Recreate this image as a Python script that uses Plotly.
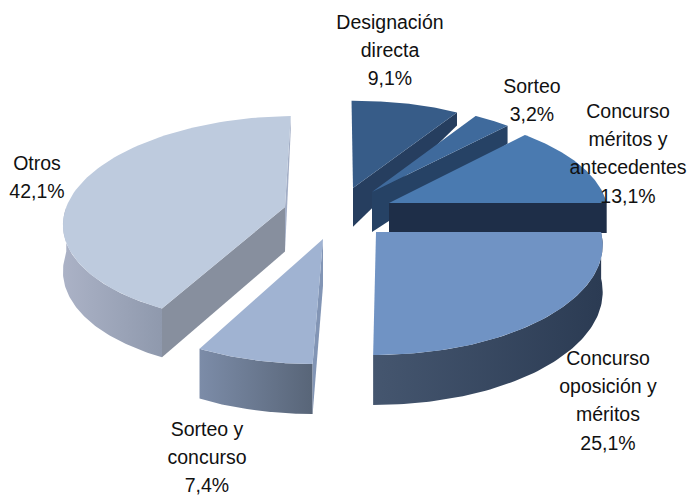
import numpy as np
import plotly.graph_objects as go

# --- data ---
categories = ["Designación directa", "Sorteo", "Concurso méritos y antecedentes",
              "Concurso oposición y méritos", "Sorteo y concurso", "Otros"]
values = [9.1, 3.2, 13.1, 25.1, 7.4, 42.1]
label_lines = [["Designación", "directa"], ["Sorteo"], ["Concurso", "méritos y", "antecedentes"],
               ["Concurso", "oposición y", "méritos"], ["Sorteo y", "concurso"], ["Otros"]]

# --- styling and placement ---
first_angle = -1.44
apex_px = [(353, 188), (372, 192), (389, 203), (376, 232), (323, 239), (285, 207)]
top_col = ["#375C88", "#3F6A9C", "#4A7AB0", "#7093C4", "#A0B3D2", "#BECBDE"]
cut_end = ["#263E5F", "#264265", "#1E2E48", None, None, "#A3AEC6"]
cut_start = [None, None, None, None, "#8295B5", "#878F9E"]
wall = [None, None, None, ("#45566F", "#2B3B53"), ("#7C8CA8", "#586578"), ("#ABB2C6", "#8F99AD")]
depth_cap = [99, 99, 30, 99, 99, 99]
draw_order = [5, 0, 1, 2, 4, 3]
label_x = [390, 532, 628, 608, 207, 37]
label_y0 = [24, 88, 113, 360, 431, 165]
pitch = 28.3
font = dict(family="Liberation Sans, Arial, sans-serif", size=19.5, color="#111111")

# perspective model of the tilted disc
CX, CY, RX, RY, K = 385.0, 212.0, 220.0, 103.0, 0.12


def project(X, Y):
    w = 1 + K * Y
    return CX + RX * X / w, CY - RY * Y / w


def world(px, py):
    dy = CY - py
    Y = dy / (RY - K * dy)
    return (px - CX) * (1 + K * Y) / RX, Y


def depth(Y, cap=99):
    return np.minimum(np.interp(Y, [-1.2, 0.0, 1.1], [50, 46, 13]), cap)


def rim(a0, ax, ay, a1):
    t = np.radians(np.linspace(a0, a1, 80))
    return ax + np.sin(t), ay + np.cos(t)


def poly(fig, xs, ys, color=None, grad=None):
    style = dict(fillcolor=color) if grad is None else dict(
        fillgradient=dict(type="horizontal", colorscale=[[0, grad[0]], [1, grad[1]]]))
    fig.add_trace(go.Scatter(x=np.append(xs, xs[0]), y=np.append(ys, ys[0]), mode="lines",
                             fill="toself", line=dict(width=0), hoverinfo="skip",
                             showlegend=False, **style))


def side(fig, X, Y, color=None, grad=None, cap=99):
    X, Y = np.asarray(X, float), np.asarray(Y, float)
    px, py = project(X, Y)
    bx, by = px, py + depth(Y, cap)
    poly(fig, np.r_[px, bx[::-1]], np.r_[py, by[::-1]], color, grad)


starts = first_angle + 3.6 * np.r_[0, np.cumsum(values)[:-1]]
ends = starts + 3.6 * np.array(values)

fig = go.Figure()
for i in draw_order:
    a0, a1 = starts[i], ends[i]
    ax, ay = world(*apex_px[i])
    if wall[i]:
        rx_, ry_ = rim(max(a0, 90), ax, ay, min(a1, 270))
        side(fig, rx_, ry_, grad=wall[i])
    if cut_start[i]:
        rx_, ry_ = rim(a0, ax, ay, a0)
        side(fig, [ax, rx_[0]], [ay, ry_[0]], color=cut_start[i])
    if cut_end[i]:
        rx_, ry_ = rim(a1, ax, ay, a1)
        side(fig, [ax, rx_[0]], [ay, ry_[0]], color=cut_end[i], cap=depth_cap[i])
    rx_, ry_ = rim(a0, ax, ay, a1)
    tx, ty = project(np.r_[ax, rx_], np.r_[ay, ry_])
    poly(fig, tx, ty, color=top_col[i])

for i, lines in enumerate(label_lines):
    pct = f"{values[i]:.1f}%".replace(".", ",")
    rows = lines + [pct]
    fig.add_trace(go.Scatter(x=[label_x[i]] * len(rows), y=[label_y0[i] + pitch * n for n in range(len(rows))],
                             mode="text", text=rows, textposition="middle center", textfont=font,
                             hoverinfo="skip", showlegend=False, cliponaxis=False))

fig.update_layout(width=688, height=495, margin=dict(l=0, r=0, t=0, b=0),
                  paper_bgcolor="white", plot_bgcolor="white",
                  xaxis=dict(range=[0, 688], visible=False, fixedrange=True),
                  yaxis=dict(range=[495, 0], visible=False, fixedrange=True))
fig.write_html("out.html", config={"displayModeBar": False},
               post_script="document.body.style.margin='0';document.documentElement.style.overflow='hidden';")
